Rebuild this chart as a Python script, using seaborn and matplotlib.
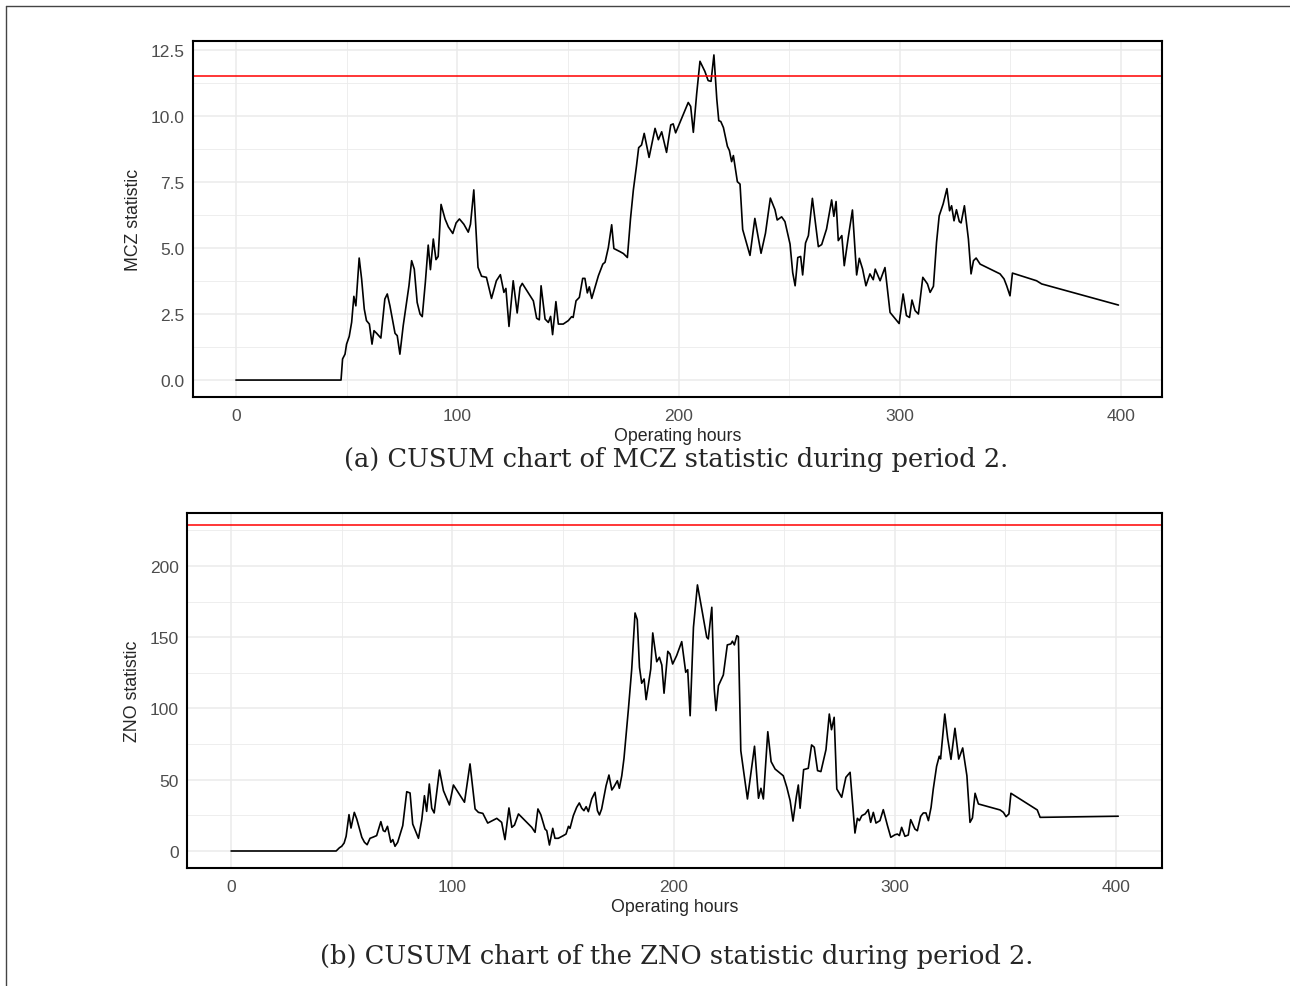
import matplotlib
matplotlib.use('Agg')
import matplotlib.pyplot as plt
import seaborn as sns
import pandas as pd
from matplotlib.lines import Line2D
from matplotlib.ticker import MultipleLocator, FormatStrFormatter

# CUSUM van MCZ statistiek (periode 2)
mcz_hours = [0, 47.5, 48.2, 49.3, 50.0, 51.2, 52.3, 53.3, 54.2, 55.7, 56.8, 58.0, 59.0, 60.3, 61.5,
             62.4, 63.6, 65.5, 67.3, 68.4, 69.6, 71.9, 72.9, 74.1, 75.6, 77.1, 78.2, 79.4, 80.6,
             81.9, 83.2, 84.2, 85.6, 86.9, 87.9, 89.2, 90.4, 91.4, 92.7, 94.5, 96.0, 98.0, 99.5,
             101.0, 103.0, 105.0, 106.0, 107.5, 108.7, 109.4, 111.0, 113.2, 115.5, 117.7, 119.5,
             121.1, 122.0, 123.4, 125.3, 127.1, 128.4, 129.4, 134.4, 135.9, 137.1, 137.9, 139.7,
             141.2, 142.2, 143.1, 144.6, 145.7, 147.9, 150.2, 151.7, 152.4, 153.7, 155.2, 156.7,
             157.7, 158.8, 159.7, 160.8, 163.8, 165.8, 166.8, 168.3, 169.8, 170.8, 173.6, 175.1,
             176.9, 178.3, 179.6, 181.0, 182.0, 183.3, 184.5, 186.7, 189.4, 190.9, 192.4, 194.6,
             196.5, 197.6, 198.7, 204.4, 205.5, 206.7, 208.2, 209.7, 211.9, 213.4, 214.7, 216.0,
             217.3, 218.2, 219.1, 220.3, 222.1, 223.0, 224.0, 224.8, 226.6, 227.8, 229.0, 232.3,
             234.5, 237.3, 239.3, 241.5, 243.6, 244.6, 246.6, 248.1, 250.4, 251.6, 252.7, 253.9,
             255.2, 256.1, 257.4, 258.7, 260.5, 263.2, 264.7, 266.9, 269.2, 270.2, 271.2, 272.2,
             273.8, 274.9, 276.7, 278.6, 280.5, 281.7, 283.2, 284.7, 286.5, 288.0, 288.9, 291.1,
             293.3, 295.6, 299.7, 301.5, 303.0, 304.4, 305.5, 306.9, 308.4, 310.4, 312.5, 313.7,
             315.2, 316.6, 317.8, 319.6, 321.3, 322.5, 323.4, 324.5, 325.6, 326.9, 327.7, 329.2,
             331.0, 332.2, 333.3, 334.5, 336.3, 345.3, 347.1, 348.3, 349.8, 350.9, 361.8, 364.1,
             398.8]
mcz_values = [0, 0, 0.80, 0.98, 1.36, 1.65, 2.19, 3.17, 2.81, 4.62, 3.83, 2.69, 2.25, 2.12, 1.36,
              1.87, 1.77, 1.59, 3.07, 3.26, 2.81, 1.77, 1.68, 0.98, 2.06, 2.94, 3.57, 4.52, 4.20,
              2.94, 2.50, 2.40, 3.70, 5.11, 4.18, 5.34, 4.56, 4.68, 6.65, 6.10, 5.80, 5.55, 5.95,
              6.10, 5.90, 5.60, 5.90, 7.20, 5.30, 4.27, 3.93, 3.89, 3.09, 3.76, 3.99,
              3.32, 3.47, 2.03, 3.76, 2.54, 3.51, 3.66, 3.00, 2.34, 2.28, 3.57, 2.31,
              2.18, 2.41, 1.72, 2.97, 2.12, 2.12, 2.25, 2.40, 2.37, 3.00, 3.13, 3.85,
              3.85, 3.30, 3.53, 3.09, 3.95, 4.39, 4.46, 5.02, 5.88, 4.98, 4.86, 4.79,
              4.64, 6.10, 7.20, 8.10, 8.80, 8.90, 9.34, 8.43, 9.53, 9.10, 9.40, 8.62,
              9.66, 9.70, 9.36, 10.51, 10.36, 9.38, 10.83, 12.07, 11.69, 11.34, 11.31, 12.31,
              10.64, 9.82, 9.79, 9.56, 8.85, 8.69, 8.27, 8.50, 7.51, 7.42, 5.70, 4.72,
              6.12, 4.80, 5.56, 6.89, 6.45, 6.06, 6.18, 6.00, 5.15, 4.07, 3.57, 4.64,
              4.68, 3.98, 5.19, 5.47, 6.88, 5.05, 5.13, 5.72, 6.82, 6.20, 6.76, 5.28,
              5.47, 4.33, 5.40, 6.44, 3.98, 4.61, 4.20, 3.57, 4.02, 3.80, 4.20, 3.76,
              4.26, 2.56, 2.14, 3.26, 2.44, 2.37, 3.03, 2.63, 2.50, 3.89, 3.64, 3.32,
              3.55, 5.21, 6.22, 6.67, 7.25, 6.41, 6.60, 6.03, 6.45, 6.00, 5.95, 6.60,
              5.34, 4.02, 4.52, 4.62, 4.39, 4.02, 3.83, 3.57, 3.19, 4.05, 3.76, 3.64,
              2.84]
mcz_limit = 11.5

# CUSUM van ZNO statistiek (periode 2)
zno_hours = [0, 47.5, 49.0, 50.0, 51.1, 52.0, 53.3, 54.2, 55.7, 56.8, 59.1, 60.3, 61.5, 62.8, 64.3,
             65.8, 67.7, 68.8, 69.6, 70.7, 72.2, 73.1, 74.1, 75.3, 77.6, 79.4, 80.9, 82.1, 84.7,
             86.2, 87.4, 88.4, 89.6, 90.7, 91.8, 94.2, 96.0, 98.7, 100.5, 105.5, 108.0, 110.3,
             111.8, 113.8, 116.0, 120.1, 122.3, 123.8, 125.6, 126.9, 128.1, 129.9, 132.9, 135.9,
             137.4, 138.7, 140.0, 141.9, 142.7, 143.9, 145.4, 146.4, 147.9, 150.2, 151.4, 152.5,
             153.2, 154.7, 156.2, 157.4, 158.5, 159.5, 160.5, 161.5, 163.0, 164.5, 165.6, 166.5,
             167.5, 169.5, 170.8, 172.1, 173.1, 174.6, 175.5, 176.6, 177.6, 179.6, 181.1, 182.6,
             183.6, 184.6, 185.6, 186.7, 187.6, 189.7, 190.6, 192.4, 193.6, 194.7, 195.7, 197.4,
             198.4, 199.6, 201.4, 203.7, 205.5, 206.4, 207.5, 209.0, 210.8, 212.7, 215.0, 215.7,
             217.3, 218.4, 219.2, 220.3, 222.5, 224.3, 225.9, 226.6, 227.5, 228.6, 229.3, 230.4,
             233.4, 236.6, 238.4, 239.5, 240.6, 242.6, 244.1, 245.9, 248.1, 249.6, 251.2, 252.7,
             254.0, 255.5, 256.4, 257.2, 258.8, 260.9, 262.4, 263.6, 265.1, 266.6, 268.9, 270.4,
             271.4, 272.6, 273.8, 276.0, 277.9, 279.8, 282.0, 283.1, 284.0, 285.1, 286.6, 288.0,
             289.1, 290.3, 291.5, 293.3, 294.8, 296.7, 298.2, 300.1, 301.2, 302.1, 303.1, 304.6,
             306.1, 307.2, 309.1, 310.2, 311.7, 312.9, 314.1, 315.2, 316.4, 317.4, 318.9, 320.1,
             320.7, 322.6, 323.9, 325.4, 327.2, 328.9, 330.7, 332.6, 334.0, 335.1, 336.3, 337.8,
             347.6, 349.1, 350.3, 351.6, 352.5, 364.4, 365.7, 401.0]
zno_values = [0, 0, 2.3, 3.3, 5.6, 10.3, 25.5, 16.1, 27.1, 22.5, 9.6, 6.1, 4.4, 8.9, 9.8,
              10.8, 20.6, 14.3, 13.6, 17.3, 6.1, 8.0, 3.3, 6.1, 17.8, 41.6, 40.7, 18.9, 8.9,
              22.0, 38.8, 27.8, 47.0, 30.0, 26.7, 56.8, 42.3, 32.3, 46.3, 34.2, 61.1, 29.5,
              27.1, 26.4, 19.6, 22.9, 20.1, 8.0, 30.2, 16.6, 18.2, 26.0, 21.3, 16.6,
              13.1, 29.5, 25.5, 15.4, 14.2, 4.2, 15.9, 8.9, 8.9, 10.8, 11.9, 17.3,
              15.9, 24.8, 30.6, 33.7, 30.0, 28.3, 31.1, 27.6, 36.5, 41.2, 28.3, 25.3,
              29.5, 45.8, 53.3, 42.8, 45.1, 49.3, 44.0, 52.8, 65.0, 99.6, 127.7, 167.0,
              162.3, 128.9, 117.7, 120.7, 106.2, 127.7, 153.0, 132.8, 135.9, 130.5, 110.7, 140.1,
              138.2, 131.2, 137.1, 146.9, 125.4, 127.2, 94.9, 157.0, 186.7, 170.3, 150.0, 148.8,
              171.0, 113.7, 98.5, 116.0, 123.5, 144.6, 145.3, 147.2, 144.6, 151.1, 150.4, 70.4,
              36.5, 73.5, 37.0, 44.0, 36.5, 83.7, 62.7, 57.5, 54.7, 52.8, 44.7, 35.3,
              21.0, 38.0, 46.3, 30.0, 57.1, 58.0, 74.4, 72.8, 56.4, 55.7, 71.1, 96.1,
              85.1, 93.8, 43.5, 37.7, 51.7, 55.2, 12.6, 22.9, 21.3, 24.8, 26.0, 29.0,
              20.1, 27.1, 19.6, 21.3, 29.0, 17.8, 9.6, 11.4, 11.9, 10.8, 16.6, 10.3,
              11.2, 22.0, 15.4, 14.2, 24.3, 26.7, 26.7, 21.3, 30.6, 43.5, 59.4, 66.5,
              64.6, 96.1, 79.1, 64.3, 86.1, 64.5, 72.3, 52.8, 20.1, 23.2, 40.5, 33.0,
              28.8, 27.1, 24.1, 26.0, 40.5, 28.8, 23.6, 24.4]
zno_limit = 229

sns.set_style('white')
plt.rcParams['font.family'] = ['Liberation Sans', 'DejaVu Sans']

fig = plt.figure(figsize=(12.9, 9.87), dpi=100)
ax1 = fig.add_axes([0.1496, 0.5968, 0.7512, 0.3607])
ax2 = fig.add_axes([0.1450, 0.1196, 0.7558, 0.3597])


def ggplot_bw(ax, ymajor, yminor, yfmt):
    ax.xaxis.set_major_locator(MultipleLocator(100))
    ax.xaxis.set_minor_locator(MultipleLocator(50))
    ax.yaxis.set_major_locator(MultipleLocator(ymajor))
    ax.yaxis.set_minor_locator(MultipleLocator(yminor))
    ax.yaxis.set_major_formatter(FormatStrFormatter(yfmt))
    ax.grid(which='major', color='#EBEBEB', linewidth=1.1)
    ax.grid(which='minor', color='#EBEBEB', linewidth=0.6)
    ax.set_axisbelow(True)
    for s in ax.spines.values():
        s.set_color('black')
        s.set_linewidth(1.5)
    ax.tick_params(which='major', length=3.5, width=0.9, color='#333333',
                   labelcolor='#4D4D4D', labelsize=12.5, pad=2.5)
    ax.tick_params(axis='x', which='major', pad=4.5)
    ax.tick_params(which='minor', length=0)


# Bovenste paneel: MCZ
df_mcz = pd.DataFrame({'hours': mcz_hours, 'stat': mcz_values})
sns.lineplot(data=df_mcz, x='hours', y='stat', ax=ax1, color='black', linewidth=1.2, estimator=None)
ax1.axhline(mcz_limit, color='red', linewidth=1.1)
ax1.set_xlim(-19.4, 418.5)
ax1.set_ylim(-0.64, 12.84)
ggplot_bw(ax1, 2.5, 1.25, '%.1f')
ax1.set_xlabel('Operating hours', fontsize=12.8, labelpad=3)
ax1.set_ylabel('MCZ statistic', fontsize=12.8, labelpad=6)

# Onderste paneel: ZNO
df_zno = pd.DataFrame({'hours': zno_hours, 'stat': zno_values})
sns.lineplot(data=df_zno, x='hours', y='stat', ax=ax2, color='black', linewidth=1.2, estimator=None)
ax2.axhline(zno_limit, color='red', linewidth=1.1)
ax2.set_xlim(-19.9, 420.8)
ax2.set_ylim(-11.9, 237.2)
ggplot_bw(ax2, 50, 25, '%d')
ax2.set_xlabel('Operating hours', fontsize=12.8, labelpad=3)
ax2.set_ylabel('ZNO statistic', fontsize=12.8, labelpad=6)

# Onderschriften (serif, zoals in het document)
fig.text(0.5244, 0.5345, '(a) CUSUM chart of MCZ statistic during period 2.',
         family='DejaVu Serif', fontsize=18.5, ha='center', va='center')
fig.text(0.5244, 0.0304, '(b) CUSUM chart of the ZNO statistic during period 2.',
         family='DejaVu Serif', fontsize=18.5, ha='center', va='center')

# Paginakader links en boven
fig.add_artist(Line2D([0.00465, 0.00465], [0.0, 0.9929], color='#444444', linewidth=1.0))
fig.add_artist(Line2D([0.00465, 1.0], [0.9929, 0.9929], color='#444444', linewidth=1.0))

fig.savefig('out.png', dpi=100)
